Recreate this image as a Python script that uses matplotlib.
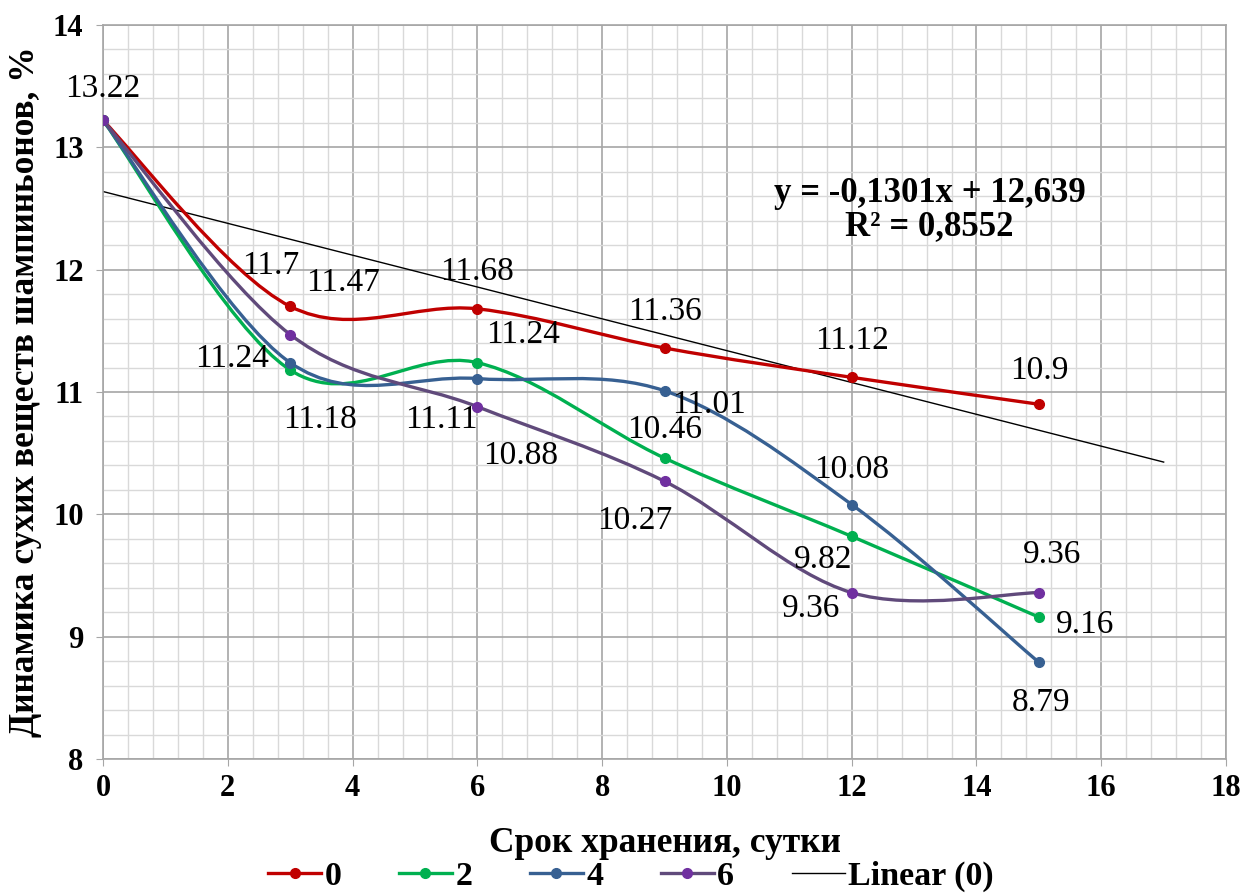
import numpy as np
import matplotlib
matplotlib.use('Agg')
import matplotlib.pyplot as plt
from matplotlib.path import Path
from matplotlib.patches import PathPatch
from matplotlib.lines import Line2D
from matplotlib.ticker import MultipleLocator

plt.rcParams['font.family'] = ['Liberation Serif', 'DejaVu Serif']

# Data
days = [0, 3, 6, 9, 12, 15]
s0 = [13.22, 11.7, 11.68, 11.36, 11.12, 10.9]
s2 = [13.22, 11.18, 11.24, 10.46, 9.82, 9.16]
s4 = [13.22, 11.24, 11.11, 11.01, 10.08, 8.79]
s6 = [13.22, 11.47, 10.88, 10.27, 9.36, 9.36]
names = ['0', '2', '4', '6']
slope, intercept = -0.1301, 12.639
trend_x = [0, 17]

# Styles
line_colors = ['#C00000', '#00B050', '#376092', '#604A7B']
marker_colors = ['#C00000', '#00B050', '#376092', '#7030A0']
# label offsets (pixels) for each series, per point
offsets = [
    [(0, 32), (-19, 41), (0, 37), (0, 36), (0, 37), (0, 34)],
    [None, (30, -50), (46, 28), (0, 28), (-29, -23), (46, -8)],
    [None, (-58, 4), (-36, -41), (44, -14), (0, 35), (2, -40)],
    [None, (53, 52), (43, -49), (-30, -39), (-41, -16), (13, 38)],
]


def smooth_path(x, y):
    # Excel-like smoothed line: cubic Bezier segments, Catmull-Rom control points
    pts = np.column_stack([x, y]).astype(float)
    n = len(pts)
    verts = [pts[0]]
    codes = [Path.MOVETO]
    for i in range(n - 1):
        p_prev = pts[i - 1] if i > 0 else pts[i]
        p_next = pts[i + 2] if i + 2 < n else pts[i + 1]
        c1 = pts[i] + (pts[i + 1] - p_prev) / 6
        c2 = pts[i + 1] - (p_next - pts[i]) / 6
        verts += [c1, c2, pts[i + 1]]
        codes += [Path.CURVE4] * 3
    return Path(verts, codes)


fig = plt.figure(figsize=(12.58, 8.94), dpi=100)
ax = fig.add_axes([0.0819, 0.151, 0.8927, 0.821])

ax.set_xlim(0, 18)
ax.set_ylim(8, 14)
ax.xaxis.set_major_locator(MultipleLocator(2))
ax.xaxis.set_minor_locator(MultipleLocator(0.4))
ax.yaxis.set_major_locator(MultipleLocator(1))
ax.yaxis.set_minor_locator(MultipleLocator(0.2))
ax.grid(which='major', color='#A6A6A6', lw=1.2)
ax.grid(which='minor', color='#D9D9D9', lw=1.0)
ax.set_axisbelow(True)
for sp in ax.spines.values():
    sp.set_color('#A6A6A6')
    sp.set_linewidth(1.2)
ax.tick_params(which='major', direction='out', length=5, color='#A6A6A6',
               labelsize=22)
ax.tick_params(axis='x', pad=6)
ax.tick_params(axis='y', pad=9)
ax.tick_params(which='minor', length=0)
for lab in ax.get_xticklabels() + ax.get_yticklabels():
    lab.set_fontweight('bold')

# trendline
tx = np.array(trend_x, dtype=float)
ax.plot(tx, slope * tx + intercept, color='black', lw=1.0, zorder=2)

series = [s0, s2, s4, s6]
handles = []
for k, s in enumerate(series):
    patch = PathPatch(smooth_path(days, s), facecolor='none',
                      edgecolor=line_colors[k], lw=2.4, zorder=3 + k,
                      capstyle='round')
    ax.add_patch(patch)
    ax.plot(days, s, 'o', color=marker_colors[k], ms=7, zorder=7 + k)
    handles.append(Line2D([], [], color=line_colors[k], lw=2.4, marker='o',
                          ms=7, mfc=marker_colors[k], mec=marker_colors[k]))
    for i, (xv, yv) in enumerate(zip(days, s)):
        off = offsets[k][i]
        if off is None:
            continue
        ax.annotate(f'{yv:g}', (xv, yv), xytext=off, textcoords='offset pixels',
                    ha='center', va='center', fontsize=24, zorder=12)

handles.append(Line2D([], [], color='black', lw=1.0))

ax.text(13.25, 12.49, 'y = -0,1301x + 12,639\nR² = 0,8552', ha='center',
        va='center', multialignment='center', fontsize=25, fontweight='bold',
        linespacing=1.0)

ax.set_xlabel('Срок хранения, сутки', fontsize=25.5, fontweight='bold')
ax.set_ylabel('Динамика сухих веществ шампиньонов, %', fontsize=25.5,
              fontweight='bold')
ax.xaxis.set_label_coords(0.5, -0.093)
ax.yaxis.set_label_coords(-0.054, 0.5)

fig.legend(handles, names + ['Linear (0)'], loc='lower center',
           bbox_to_anchor=(0.5016, 0.0), ncol=5, frameon=False,
           prop={'size': 24.5, 'weight': 'bold'}, handlelength=1.55,
           handletextpad=0.1, columnspacing=1.7, borderaxespad=0,
           borderpad=0.05)

fig.savefig('out.png', dpi=100)
